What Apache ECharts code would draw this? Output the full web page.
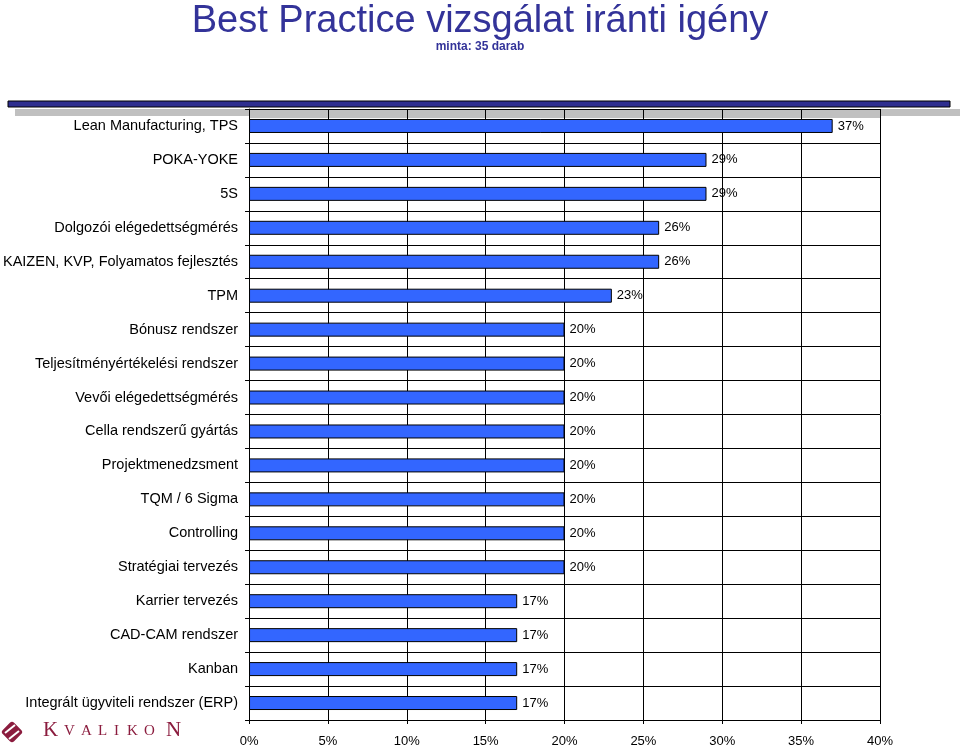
<!DOCTYPE html>
<html>
<head>
<meta charset="utf-8">
<script src="https://cdn.jsdelivr.net/npm/echarts@6/dist/echarts.min.js"></script>
<style>
html,body{margin:0;padding:0;background:#fff;}
#chart{width:960px;height:748px;}
</style>
</head>
<body>
<div id="chart"></div>
<script>
const categories = [
  "Lean Manufacturing, TPS",
  "POKA-YOKE",
  "5S",
  "Dolgozói elégedettségmérés",
  "KAIZEN, KVP, Folyamatos fejlesztés",
  "TPM",
  "Bónusz rendszer",
  "Teljesítményértékelési rendszer",
  "Vevői elégedettségmérés",
  "Cella rendszerű gyártás",
  "Projektmenedzsment",
  "TQM / 6 Sigma",
  "Controlling",
  "Stratégiai tervezés",
  "Karrier tervezés",
  "CAD-CAM rendszer",
  "Kanban",
  "Integrált ügyviteli rendszer (ERP)"
];
const values = [37, 29, 29, 26, 26, 23, 20, 20, 20, 20, 20, 20, 20, 20, 17, 17, 17, 17];
const xTicks = { min: 0, max: 40, interval: 5 };
const titleText = "Best Practice vizsgálat iránti igény";
const subtitleText = "minta: 35 darab";
const logoLetters = ["K", "V", "A", "L", "I", "K", "O", "N"];

const FONT = 'Arial, "Liberation Sans", sans-serif';
const chart = echarts.init(document.getElementById('chart'), null, {renderer: 'canvas'});

const logoX = [43, 64, 81, 98, 114, 127, 144, 166];
const logoGraphics = logoLetters.map((ch, i) => {
  const big = (i === 0 || i === logoLetters.length - 1);
  return {
    type: 'text', left: logoX[i], top: big ? 720 : 724, z: 10,
    style: { text: ch, fill: '#8b1c3e', font: (big ? '21px' : '15px') + ' "Liberation Serif", "DejaVu Serif", serif' }
  };
});

chart.setOption({
  backgroundColor: '#ffffff',
  animation: false,
  title: {
    text: titleText,
    subtext: subtitleText,
    left: 'center',
    top: -2,
    itemGap: 0,
    textStyle: { fontFamily: FONT, fontSize: 38, fontWeight: 'normal', color: '#333399' },
    subtextStyle: { fontFamily: FONT, fontSize: 12, fontWeight: 'bold', color: '#333399' }
  },
  graphic: [
    { type: 'rect', z: -10, shape: { x: 15, y: 109, width: 945, height: 7 }, style: { fill: '#c0c0c0' } },
    { type: 'rect', z: -10, shape: { x: 249, y: 109, width: 631, height: 9 }, style: { fill: '#c0c0c0' } },
    { type: 'rect', z: 5, shape: { x: 8, y: 101, width: 942, height: 6 }, style: { fill: '#2e2e8f', stroke: '#000', lineWidth: 1 } },
    { type: 'rect', z: 10, x: 12, y: 732, rotation: Math.PI / 4, shape: { x: -8, y: -8, width: 16, height: 16, r: 3 }, style: { fill: '#8b1c3e' } },
    { type: 'line', z: 11, shape: { x1: 5, y1: 733, x2: 15, y2: 725 }, style: { stroke: '#fff', lineWidth: 2 } },
    { type: 'line', z: 11, shape: { x1: 9, y1: 739, x2: 19, y2: 731 }, style: { stroke: '#fff', lineWidth: 2 } }
  ].concat(logoGraphics),
  grid: { left: 249, right: 80, top: 109, bottom: 27, containLabel: false },
  xAxis: {
    type: 'value',
    min: xTicks.min, max: xTicks.max, interval: xTicks.interval,
    axisLine: { show: true, lineStyle: { color: '#000', width: 1 } },
    axisTick: { show: true, length: 4, lineStyle: { color: '#000' } },
    splitLine: { show: true, lineStyle: { color: '#000', width: 1 } },
    axisLabel: { formatter: '{value}%', fontFamily: FONT, fontSize: 13, color: '#000', margin: 15 }
  },
  yAxis: {
    type: 'category',
    data: categories,
    inverse: true,
    axisLine: { show: true, lineStyle: { color: '#000', width: 1 } },
    axisTick: { show: true, length: 4, lineStyle: { color: '#000' } },
    splitLine: { show: true, lineStyle: { color: '#000', width: 1 } },
    axisLabel: { fontFamily: FONT, fontSize: 14.5, color: '#000', margin: 11 }
  },
  series: [{
    type: 'bar',
    data: values,
    barWidth: 14,
    itemStyle: { color: '#3366ff', borderColor: '#000', borderWidth: 1 },
    label: { show: true, position: 'right', distance: 5, formatter: '{c}%', fontFamily: FONT, fontSize: 13, color: '#000' }
  }]
});
</script>
</body>
</html>
